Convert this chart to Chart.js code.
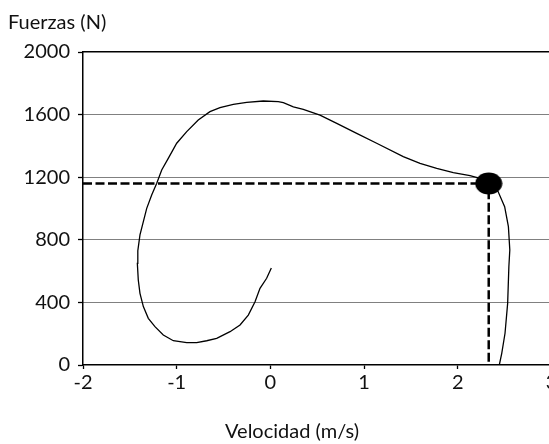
<!DOCTYPE html>
<html><head><meta charset="utf-8">
<script src="https://cdn.jsdelivr.net/npm/chart.js@4"></script>
<style>
html,body{margin:0;padding:0;overflow:hidden;background:#fff;width:549px;height:444px}
#wrap{width:576px;height:444px}
canvas{display:block}
</style>
</head><body><div id="wrap"><canvas id="c" width="576" height="444"></canvas></div>
<script>
const xTickLabels = ['-2','-1','0','1','2','3'];
const yTickLabels = ['0','400','800','1200','1600','2000'];
const velocity = [0.01,-0.04,-0.111,-0.164,-0.236,-0.324,-0.431,-0.573,-0.68,-0.787,-0.893,-1.036,-1.143,-1.232,-1.303,-1.356,-1.392,-1.41,-1.42,-1.415,-1.392,-1.356,-1.32,-1.267,-1.213,-1.16,-1.09,-1.0,-0.893,-0.77,-0.645,-0.538,-0.396,-0.253,-0.076,0.084,0.138,0.245,0.351,0.529,0.708,0.921,1.134,1.418,1.597,1.775,1.952,2.13,2.237,2.33,2.43,2.50,2.54,2.555,2.545,2.532,2.504,2.469,2.443];
const force = [620,554,490,404,319,256,213,170,155,143,143,155,192,245,298,373,458,543,650,730,831,916,1001,1086,1161,1246,1320,1417,1491,1565,1619,1645,1666,1678,1687,1683,1676,1650,1634,1597,1544,1480,1417,1331,1288,1256,1229,1210,1193,1160,1108,1012,884,735,628,394,203,75,0];
const markerVelocity = [2.33];
const markerForce = [1160];

const ellipse = document.createElement('canvas');
ellipse.width = 28; ellipse.height = 23;
const ec = ellipse.getContext('2d');
ec.fillStyle = '#000';
ec.beginPath(); ec.ellipse(14, 11.5, 13.5, 11, 0, 0, Math.PI * 2); ec.fill();

const tickFont = {family: 'Lato', size: 20};
const titleFont = {family: 'Lato', size: 20, weight: 'normal'};

new Chart(document.getElementById('c'), {
  type: 'scatter',
  data: {
    datasets: [
      {label: 'marker', data: markerVelocity.map((v, i) => ({x: v, y: markerForce[i]})),
       pointStyle: ellipse, pointRadius: 12, showLine: false, clip: false},
      {label: 'ref', data: [{x: -2, y: markerForce[0]}, {x: markerVelocity[0], y: markerForce[0]}, {x: markerVelocity[0], y: 0}],
       showLine: true, borderColor: '#000', borderWidth: 2.5, borderDash: [9, 3.5], pointRadius: 0},
      {label: 'curve', data: velocity.map((v, i) => ({x: v, y: force[i]})),
       showLine: true, borderColor: '#000', borderWidth: 1.3, pointRadius: 0, tension: 0}
    ]
  },
  options: {
    responsive: false, animation: false, devicePixelRatio: 1,
    layout: {padding: {left: 8, right: 0, top: 0, bottom: 0}},
    plugins: {
      legend: {display: false}, tooltip: {enabled: false},
      subtitle: {display: true, text: 'Fuerzas (N)', align: 'start', position: 'top', color: '#111',
                 font: titleFont, padding: {top: 10.5, bottom: 17.5}},
      title: {display: true, text: 'Velocidad (m/s)', position: 'bottom', color: '#111',
              font: titleFont, padding: {top: 15, bottom: 0}}
    },
    scales: {
      x: {type: 'linear', position: 'bottom', min: -2, max: 3,
          ticks: {stepSize: 1, color: '#111', font: tickFont, padding: 2, maxRotation: 0,
                  callback: (v, i) => xTickLabels[i]},
          grid: {drawOnChartArea: false, drawTicks: true, tickLength: 4, tickColor: '#000', tickWidth: 1.3},
          border: {color: '#000', width: 1.5},
          afterFit: s => { s.height = 40; }},
      xTop: {type: 'linear', position: 'top', min: -2, max: 3,
             ticks: {display: false}, grid: {display: false},
             border: {display: true, color: '#000', width: 1.5},
             afterFit: s => { s.height = 0; }},
      y: {type: 'linear', min: 0, max: 2000,
          ticks: {stepSize: 400, color: '#111', font: tickFont, padding: 8,
                  callback: (v, i) => yTickLabels[i]},
          grid: {color: c => (c.tick && c.tick.value > 0 && c.tick.value < 2000) ? '#000' : 'rgba(0,0,0,0)',
                 lineWidth: 1, tickColor: '#000', tickLength: 5, tickWidth: 1.3, tickBorderDash: []},
          border: {color: '#000', width: 1.5, dash: [1, 1]},
          afterFit: s => { s.width = 75; }},
      yRight: {type: 'linear', position: 'right', min: 0, max: 1,
               ticks: {display: false}, grid: {display: false}, border: {display: false},
               afterFit: s => { s.width = 24.5; }}
    }
  }
});
</script>
</body></html>
